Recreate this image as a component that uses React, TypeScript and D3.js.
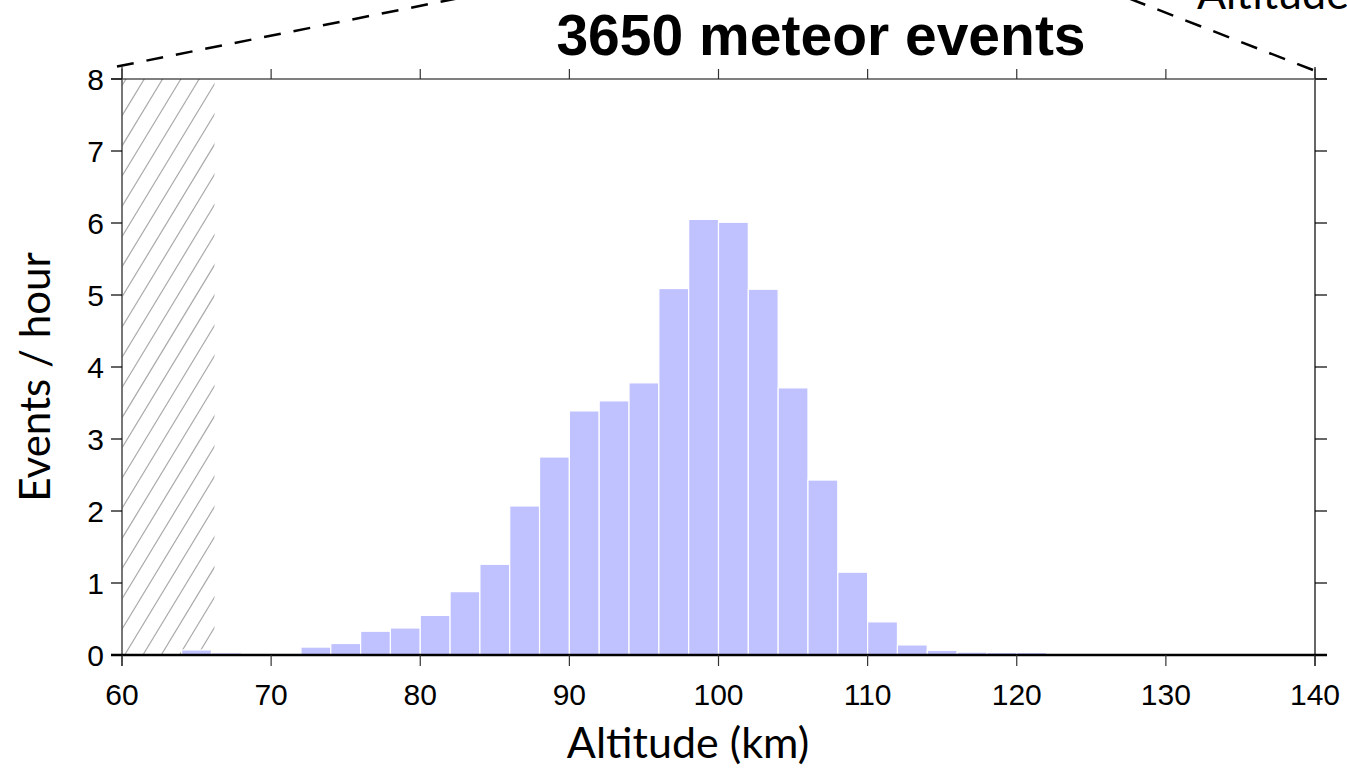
import * as d3 from 'd3'

// 2 km bins from 60 to 140 km
const binStart = d3.range(60, 140, 2)
const rates = [
  0, 0, 0.07, 0.03, 0, 0, 0.11, 0.16, 0.33, 0.375,
  0.55, 0.88, 1.26, 2.07, 2.75, 3.39, 3.53, 3.78, 5.09, 6.05,
  6.01, 5.08, 3.71, 2.43, 1.15, 0.46, 0.14, 0.065, 0.04, 0.035,
  0.035, 0, 0, 0, 0, 0, 0, 0, 0, 0,
]
const xTicks = [60, 70, 80, 90, 100, 110, 120, 130, 140]
const yTicks = [0, 1, 2, 3, 4, 5, 6, 7, 8]
const hatchLimit = 66.2
const title = '3650 meteor events'

const W = 1347
const H = 769

export default function App() {
  const x = d3.scaleLinear().domain([60, 140]).range([122, 1315])
  const y = d3.scaleLinear().domain([0, 8]).range([655, 79])
  const [x0, x1] = x.range()
  const [yb, yt] = y.range()

  // hatch lines for the excluded altitude range
  const hx0 = x(60)
  const hx1 = x(hatchLimit)
  const slope = 1.65
  const hatch = d3.range(-400, hx1 - hx0 + 20, 18.3).map(off => {
    const sx = hx0 + off
    return { x1: sx, y1: yb, x2: sx + (yb - yt) / slope, y2: yt }
  })

  const tickFont = '"Liberation Sans", Arial, sans-serif'
  const labelFont = 'Lato, "Open Sans", sans-serif'

  return (
    <svg width={W} height={H} style={{ position: 'absolute', left: 0, top: 0, background: '#fff' }}>
      <defs>
        <clipPath id="hatchClip">
          <rect x={hx0} y={yt} width={hx1 - hx0} height={yb - yt} />
        </clipPath>
      </defs>

      {/* zoom connector lines */}
      <line x1={117} y1={66.5} x2={117 + 80 / 0.2} y2={66.5 - 80} stroke="#000" strokeWidth={2.5} strokeDasharray="17,13" />
      <line x1={1313} y1={70} x2={1313 - 100 / 0.389} y2={70 - 100} stroke="#000" strokeWidth={2.5} strokeDasharray="17,13" />
      <text x={1197} y={9} fontFamily={labelFont} fontSize={43} fill="#000">Altitude</text>

      <g clipPath="url(#hatchClip)">
        {hatch.map((l, i) => (
          <line key={i} x1={l.x1} y1={l.y1} x2={l.x2} y2={l.y2} stroke="#aaa" strokeWidth={1.2} />
        ))}
      </g>

      {binStart.map((b, i) =>
        rates[i] > 0 ? (
          <rect
            key={b}
            x={x(b)}
            y={y(rates[i])}
            width={x(b + 2) - x(b)}
            height={yb - y(rates[i])}
            fill="#c0c2ff"
            stroke="#fff"
            strokeWidth={1.2}
          />
        ) : null
      )}

      {/* frame */}
      <line x1={111} y1={yt} x2={1327} y2={yt} stroke="#000" strokeWidth={1.2} />
      <line x1={x0} y1={67} x2={x0} y2={666} stroke="#555" strokeWidth={1.6} />
      <line x1={x1} y1={67} x2={x1} y2={666} stroke="#666" strokeWidth={2} />
      <line x1={111} y1={yb} x2={1327} y2={yb} stroke="#000" strokeWidth={2.4} />

      {xTicks.map(t => (
        <g key={t}>
          <line x1={x(t)} y1={yt} x2={x(t)} y2={yt - 10} stroke="#333" strokeWidth={1.2} />
          <line x1={x(t)} y1={yb} x2={x(t)} y2={yb + 11} stroke="#333" strokeWidth={1.2} />
          <text x={x(t)} y={705} textAnchor="middle" fontFamily={tickFont} fontSize={30} fill="#000">{t}</text>
        </g>
      ))}
      {yTicks.map(t => (
        <g key={t}>
          <line x1={x0 - 11} y1={y(t)} x2={x0} y2={y(t)} stroke="#000" strokeWidth={1.2} />
          <line x1={x1} y1={y(t)} x2={x1 + 12} y2={y(t)} stroke="#000" strokeWidth={1.2} />
          <text x={104} y={y(t) + 11} textAnchor="end" fontFamily={tickFont} fontSize={30} fill="#000">{t}</text>
        </g>
      ))}

      <text x={821} y={55} textAnchor="middle" fontFamily={tickFont} fontWeight="bold" fontSize={57} fill="#000">{title}</text>
      <text x={688} y={758} textAnchor="middle" fontFamily={labelFont} fontSize={43} fill="#000">Altitude (km)</text>
      <text
        transform="translate(50,377) rotate(-90)"
        textAnchor="middle"
        fontFamily={labelFont}
        fontSize={42}
        fill="#000"
      >
        Events / hour
      </text>
    </svg>
  )
}
